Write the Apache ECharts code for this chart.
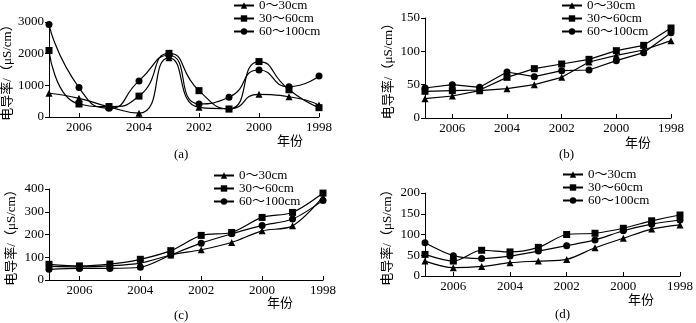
<!DOCTYPE html>
<html><head><meta charset="utf-8">
<script src="https://cdn.jsdelivr.net/npm/echarts@6/dist/echarts.min.js"></script>
<style>html,body{margin:0;padding:0;background:#fff}#c{width:696px;height:323px}</style>
</head><body><div id="c"></div>
<script>
const years = [2007, 2006, 2005, 2004, 2003, 2002, 2001, 2000, 1999, 1998];
const yearTicks = [1998, 2000, 2002, 2004, 2006];
const seriesNames = ['0～30cm', '30～60cm', '60～100cm'];
const symbols = ['triangle', 'rect', 'circle'];
const panelLabels = ['(a)', '(b)', '(c)', '(d)'];
const yMax = [3000, 150, 400, 200];
const yStep = [1000, 50, 100, 50];

const a_0_30  = [750, 590, 320, 120, 1870, 306, 260, 717, 640, 380];
const a_30_60 = [2100, 410, 330, 660, 2010, 832, 253, 1750, 860, 295];
const a_60_100 = [2920, 930, 280, 1140, 1950, 411, 622, 1485, 958, 1296];

const b_0_30  = [29, 33, 41, 44, 50, 61, 84, 94, 102, 116];
const b_30_60 = [40, 41, 42, 61, 74, 81, 88, 101, 109, 135];
const b_60_100 = [45, 50, 46, 69, 62, 71, 72, 86, 98, 128];

const c_0_30  = [60, 58, 62, 74, 110, 133, 165, 216, 238, 365];
const c_30_60 = [69, 62, 70, 91, 129, 196, 209, 275, 297, 382];
const c_60_100 = [47, 51, 51, 56, 110, 162, 203, 240, 268, 350];

const d_0_30  = [36, 20, 23, 32, 36, 40, 68, 91, 113, 123];
const d_30_60 = [52, 36, 62, 58, 69, 100, 103, 115, 133, 147];
const d_60_100 = [80, 49, 42, 48, 60, 73, 87, 109, 125, 135];

const panelData = [
  [a_0_30, a_30_60, a_60_100],
  [b_0_30, b_30_60, b_60_100],
  [c_0_30, c_30_60, c_60_100],
  [d_0_30, d_30_60, d_60_100]
];
const smoothFlags = [0.6, false, 0.3, 0.3];

const FONT = '"Liberation Serif", "Noto Sans CJK SC", serif';
const grids = [
  {left: 49, top: 22, width: 270, height: 95},
  {left: 425, top: 18, width: 246, height: 100},
  {left: 49, top: 189, width: 274, height: 91},
  {left: 425, top: 193, width: 257, height: 83}
];
const legendPos = [{left: 233, top: -1}, {left: 561, top: -1}, {left: 213, top: 169}, {left: 562, top: 168}];
const nameGaps = [35, 30, 31, 31];
const xNamePos = [[290, 142], [638, 144], [280, 304], [641, 301]];
const capPos = [[182, 155], [567, 155], [182, 316], [563, 315]];

const plain = v => String(v);
const axisLineStyle = {color: '#000', width: 1};
const xAxis = [], yAxis = [], series = [], legend = [], graphic = [];
for (let p = 0; p < 4; p++) {
  xAxis.push({
    gridIndex: p, type: 'value', min: 1998, max: 2007, interval: 2, inverse: true,
    axisLine: {show: true, onZero: false, lineStyle: axisLineStyle},
    axisTick: {show: true, inside: true, length: 4, customValues: yearTicks, lineStyle: axisLineStyle},
    axisLabel: {customValues: yearTicks, formatter: plain, color: '#000', fontFamily: FONT, fontSize: 13, margin: 4},
    splitLine: {show: false}
  });
  yAxis.push({
    gridIndex: p, type: 'value', min: 0, max: yMax[p], interval: yStep[p],
    name: '电导率/（μS/cm）', nameLocation: 'middle', nameGap: nameGaps[p], nameRotate: 90,
    nameTextStyle: {color: '#000', fontFamily: FONT, fontSize: 13},
    axisLine: {show: true, lineStyle: axisLineStyle},
    axisTick: {show: true, length: 4, lineStyle: axisLineStyle},
    axisLabel: {formatter: plain, color: '#000', fontFamily: FONT, fontSize: 13, margin: 5},
    splitLine: {show: false}
  });
  const names = [];
  for (let s = 0; s < 3; s++) {
    const nm = seriesNames[s] + '\u200b'.repeat(p);
    names.push(nm);
    series.push({
      type: 'line', name: nm, xAxisIndex: p, yAxisIndex: p,
      data: years.map((y, i) => [y, panelData[p][s][i]]),
      smooth: smoothFlags[p], symbol: symbols[s], symbolSize: 7,
      lineStyle: {color: '#000', width: 1.2}, itemStyle: {color: '#000'},
      animation: false
    });
  }
  legend.push({
    data: names, orient: 'vertical', left: legendPos[p].left, top: legendPos[p].top,
    itemGap: 0, itemWidth: 20, itemHeight: 8, padding: 0, itemStyle: {color: '#000'},
    textStyle: {color: '#000', fontFamily: FONT, fontSize: 13, lineHeight: 12.3},
    formatter: n => n.replace(/\u200b/g, '')
  });
  graphic.push({type: 'text', left: xNamePos[p][0] - 13, top: xNamePos[p][1] - 7,
    style: {text: '年份', fontFamily: FONT, fontSize: 13, fill: '#000'}});
  graphic.push({type: 'text', left: capPos[p][0] - 8, top: capPos[p][1] - 7,
    style: {text: panelLabels[p], fontFamily: FONT, fontSize: 13, fill: '#000'}});
}

const chart = echarts.init(document.getElementById('c'), null, {renderer: 'canvas'});
chart.setOption({animation: false, grid: grids, xAxis, yAxis, series, legend, graphic});
</script></body></html>
